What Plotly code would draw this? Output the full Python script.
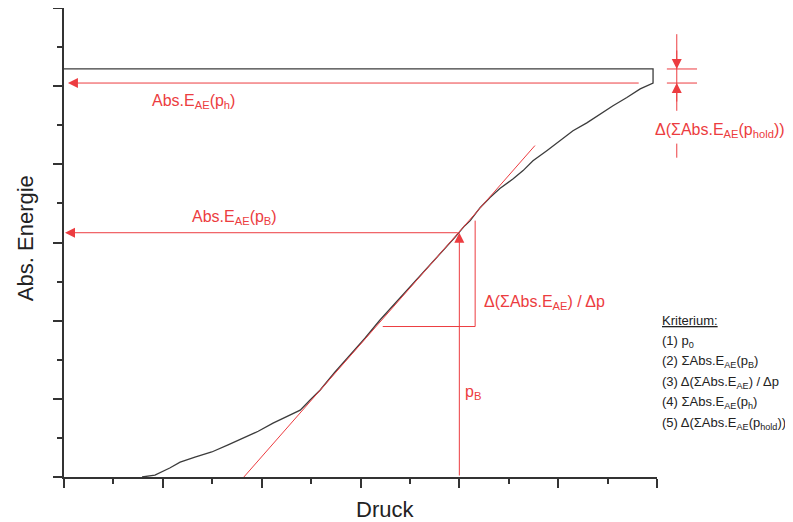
import plotly.graph_objects as go

# Messkurve (Druck vs. Abs. Energie), Achsen 0..12 ohne Zahlen
druck = [1.58, 1.84, 2.14, 2.35, 2.65, 2.99, 3.32, 3.62, 3.93, 4.23, 4.53, 4.78,
         4.98, 5.18, 5.48, 5.79, 6.09, 6.39, 6.70, 7.00, 7.30, 7.61, 7.91, 8.11,
         8.22, 8.42, 8.62, 8.82, 9.09, 9.29, 9.49, 9.77, 10.04, 10.30, 10.58,
         10.85, 11.11, 11.39, 11.66, 11.92, 11.92, 0.0]
energie = [0.0, 0.05, 0.23, 0.38, 0.51, 0.64, 0.82, 1.00, 1.17, 1.38, 1.56, 1.71,
           1.97, 2.22, 2.68, 3.11, 3.55, 4.01, 4.44, 4.88, 5.28, 5.72, 6.13, 6.43,
           6.56, 6.89, 7.15, 7.38, 7.63, 7.84, 8.09, 8.35, 8.60, 8.86, 9.06,
           9.29, 9.50, 9.71, 9.93, 10.08, 10.44, 10.44]

# Tangente
tangente_x = [3.64, 9.53]
tangente_y = [0.0, 8.48]

# Kennwerte
p0 = 3.64
pB = 8.0
E_pB = 6.25
E_ph = 10.08
E_hold = 10.44
ph_end = 11.66
dreieck_x = [6.45, 8.32, 8.32]
dreieck_y = [3.85, 3.85, 6.56]
delta_x = 12.40

kriterien = ["<u>Kriterium:</u>",
             "(1) p<sub>0</sub>",
             "(2) ΣAbs.E<sub>AE</sub>(p<sub>B</sub>)",
             "(3) Δ(ΣAbs.E<sub>AE</sub>) / Δp",
             "(4) ΣAbs.E<sub>AE</sub>(p<sub>h</sub>)",
             "(5) Δ(ΣAbs.E<sub>AE</sub>(p<sub>hold</sub>))"]
kriterien_y = [4.26, 3.73, 3.22, 2.68, 2.17, 1.63]

RED = "#ec3c40"
FONT = "Liberation Sans, Arial, sans-serif"
XMAX, YMAX = 12.0, 12.0


def px(x):
    return x / XMAX


def py(y):
    return y / YMAX


fig = go.Figure()
fig.add_trace(go.Scatter(x=druck, y=energie, mode="lines",
                         line=dict(color="#3c3c3c", width=1.3), showlegend=False))
fig.add_trace(go.Scatter(x=tangente_x, y=tangente_y, mode="lines",
                         line=dict(color=RED, width=1), showlegend=False))
fig.add_trace(go.Scatter(x=dreieck_x, y=dreieck_y, mode="lines",
                         line=dict(color=RED, width=1), showlegend=False))

shapes = []
# Markierung fuer Delta(hold) rechts neben dem Diagramm
shapes.append(dict(type="line", xref="paper", yref="paper",
                   x0=px(delta_x), x1=px(delta_x), y0=py(11.33), y1=py(9.37),
                   line=dict(color=RED, width=1)))
shapes.append(dict(type="line", xref="paper", yref="paper",
                   x0=px(delta_x), x1=px(delta_x), y0=py(8.53), y1=py(8.17),
                   line=dict(color=RED, width=1)))
for yy in [E_hold, E_ph]:
    shapes.append(dict(type="line", xref="paper", yref="paper",
                       x0=px(12.20), x1=px(12.81), y0=py(yy), y1=py(yy),
                       line=dict(color=RED, width=1)))

annotations = []
arrow = dict(showarrow=True, arrowhead=2, arrowsize=2, arrowwidth=1,
             arrowcolor=RED, text="")
# horizontale Pfeile zur y-Achse
annotations.append(dict(x=0.08, y=E_ph, ax=ph_end, ay=E_ph, xref="x", yref="y",
                        axref="x", ayref="y", **arrow))
annotations.append(dict(x=0.02, y=E_pB, ax=pB, ay=E_pB, xref="x", yref="y",
                        axref="x", ayref="y", **arrow))
# senkrechter Pfeil bei pB
annotations.append(dict(x=pB, y=E_pB, ax=pB, ay=0, xref="x", yref="y",
                        axref="x", ayref="y", **arrow))
# Delta-Pfeile
annotations.append(dict(x=px(delta_x), y=py(E_hold), xref="paper", yref="paper",
                        ax=0, ay=-20, **arrow))
annotations.append(dict(x=px(delta_x), y=py(E_ph), xref="paper", yref="paper",
                        ax=0, ay=20, **arrow))

red_font = dict(family=FONT, size=16, color=RED)
c = dict(showarrow=False, xanchor="center", yanchor="middle")
annotations += [
    dict(x=2.63, y=9.62, xref="x", yref="y",
         text="Abs.E<sub>AE</sub>(p<sub>h</sub>)", font=red_font, **c),
    dict(x=3.46, y=6.64, xref="x", yref="y",
         text="Abs.E<sub>AE</sub>(p<sub>B</sub>)", font=red_font, **c),
    dict(x=9.73, y=4.47, xref="x", yref="y",
         text="Δ(ΣAbs.E<sub>AE</sub>) / Δp", font=red_font, **c),
    dict(x=8.28, y=2.17, xref="x", yref="y",
         text="p<sub>B</sub>", font=red_font, **c),
    dict(x=p0, y=-0.59, xref="x", yref="y",
         text="p<sub>0</sub>", font=red_font, **c),
    dict(x=px(13.27), y=py(8.86), xref="paper", yref="paper",
         text="Δ(ΣAbs.E<sub>AE</sub>(p<sub>hold</sub>))", font=red_font, **c),
    dict(x=0.541, y=-0.07, xref="paper", yref="paper",
         text="Druck", font=dict(family=FONT, size=22, color="#222"), **c),
    dict(x=-0.066, y=0.509, xref="paper", yref="paper",
         text="Abs. Energie", textangle=-90,
         font=dict(family=FONT, size=22, color="#222"), **c),
]

# Kriterien-Liste
for txt, yy in zip(kriterien, kriterien_y):
    annotations.append(dict(x=1.005, y=py(yy), xref="paper", yref="paper",
                            xanchor="left", yanchor="top", showarrow=False,
                            text=txt, font=dict(family=FONT, size=13, color="#222")))

axis = dict(range=[0, 12], showline=True, linecolor="#333", linewidth=1.8,
            ticks="outside", ticklen=9, tickwidth=1.8, tickcolor="#333",
            dtick=2, tick0=0, showticklabels=False, showgrid=False,
            zeroline=False, mirror=False,
            minor=dict(ticks="outside", ticklen=5, tickwidth=1.8,
                       tickcolor="#333", dtick=1, showgrid=False))

# Seite hat 8px Rand, daher Raender entsprechend verschoben
fig.update_layout(width=793, height=522,
                  margin=dict(l=56, r=144, t=0, b=53),
                  paper_bgcolor="white", plot_bgcolor="white",
                  xaxis=axis, yaxis=axis,
                  shapes=shapes, annotations=annotations,
                  font=dict(family=FONT))

fig.write_html("out.html")
